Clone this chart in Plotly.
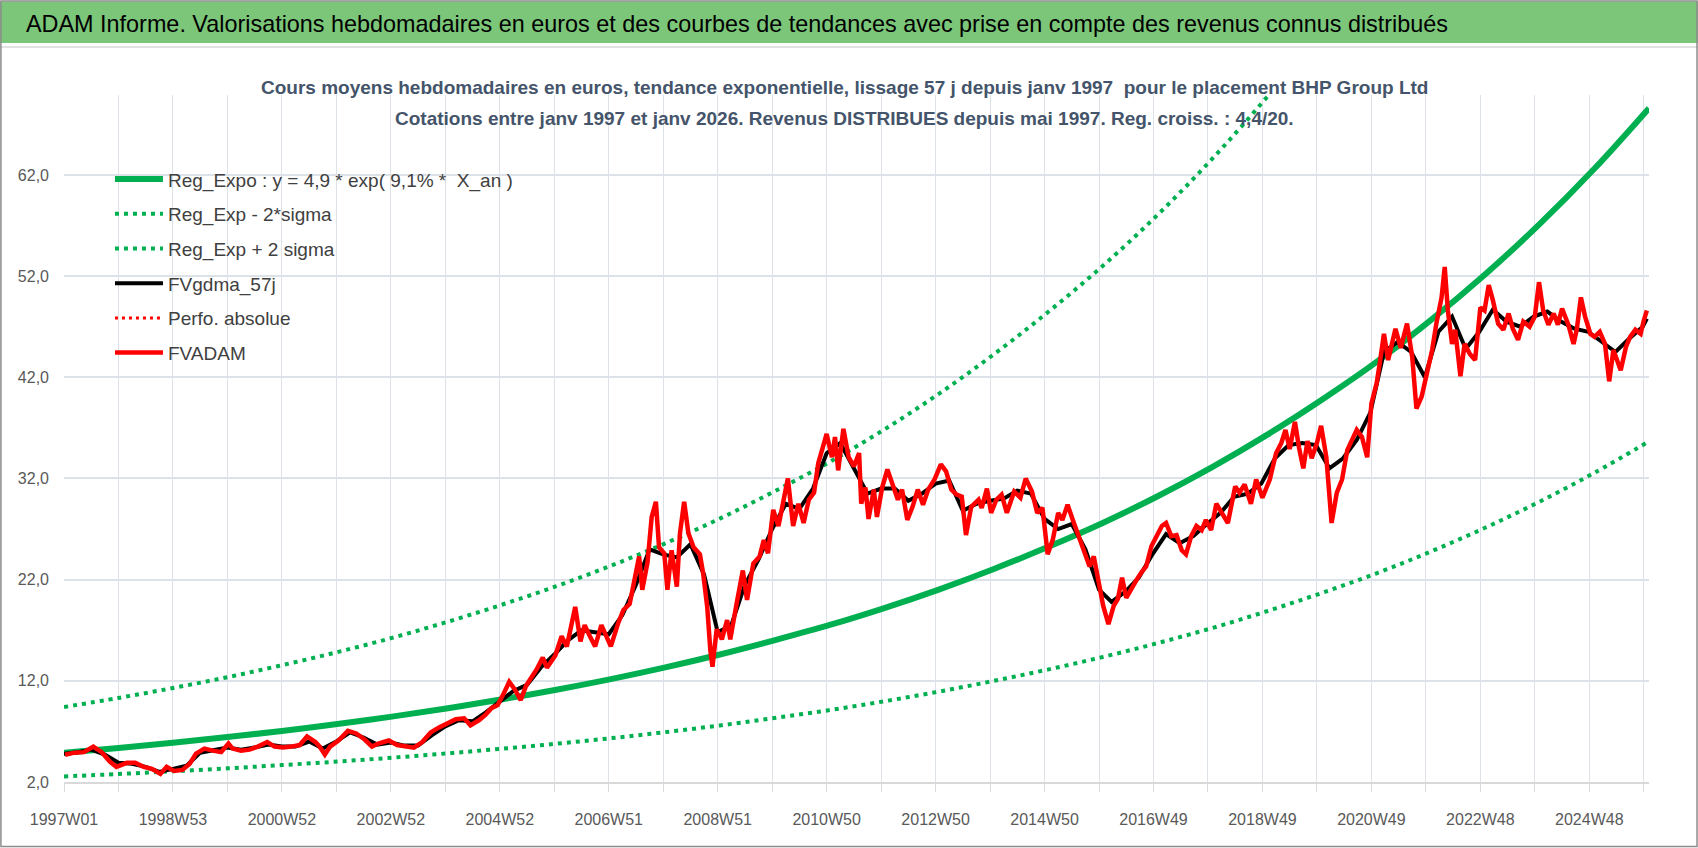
import plotly.graph_objs as go

# semaines depuis 1997W01 (index) et etiquettes de l'axe X
tick_weeks = [0, 104, 208, 312, 416, 520, 624, 728, 832, 936, 1040, 1144, 1248, 1352, 1456]
tick_labels = ["1997W01", "1998W53", "2000W52", "2002W52", "2004W52", "2006W51", "2008W51",
               "2010W50", "2012W50", "2014W50", "2016W49", "2018W49", "2020W49", "2022W48", "2024W48"]

# courbes de tendance (une valeur par an)
trend_weeks = [0, 52, 104, 156, 208, 261, 313, 365, 417, 470, 522, 574, 626, 678, 731, 783,
               835, 887, 939, 992, 1044, 1096, 1148, 1200, 1253, 1305, 1357, 1409, 1461, 1513]
reg_expo = [4.90, 5.37, 5.88, 6.44, 7.05, 7.73, 8.46, 9.27, 10.15, 11.12, 12.17, 13.33, 14.60, 16.00,
            17.52, 19.19, 21.02, 23.03, 25.22, 27.63, 30.24, 33.12, 36.28, 39.73, 43.52, 47.67, 52.21,
            57.18, 62.63, 68.60]
reg_minus = [2.55, 2.79, 3.06, 3.35, 3.67, 4.02, 4.40, 4.82, 5.28, 5.78, 6.33, 6.93, 7.59, 8.32, 9.11,
             9.98, 10.93, 11.98, 13.11, 14.37, 15.73, 17.22, 18.87, 20.66, 22.63, 24.79, 27.15, 29.73,
             32.57, 35.67]
reg_plus = [9.41, 10.31, 11.29, 12.36, 13.54, 14.84, 16.24, 17.80, 19.49, 21.35, 23.37, 25.59, 28.03,
            30.72, 33.64, 36.84, 40.36, 44.22, 48.42, 53.05, 58.06, 63.59, 69.66, 76.28, 83.56, 91.53,
            100.24, 109.79, 120.25, 131.71]

# FVgdma_57j (lissage)
gdma_weeks = [0, 13, 26, 39, 52, 65, 78, 91, 104, 117, 130, 143, 156, 169, 182, 195, 208, 221, 234,
              247, 260, 273, 286, 299, 312, 325, 338, 351, 364, 377, 390, 403, 416, 429, 442, 455,
              468, 481, 494, 507, 520, 533, 546, 559, 572, 585, 598, 611, 624, 637, 650, 663, 676,
              689, 702, 715, 728, 741, 754, 767, 780, 793, 806, 819, 832, 845, 858, 871, 884, 897,
              910, 923, 936, 949, 962, 975, 988, 1000, 1013, 1026, 1039, 1052, 1065, 1078, 1091,
              1104, 1117, 1130, 1143, 1156, 1169, 1182, 1195, 1208, 1221, 1234, 1247, 1260, 1273,
              1286, 1299, 1312, 1325, 1338, 1351, 1364, 1377, 1390, 1403, 1416, 1429, 1442, 1455,
              1468, 1481, 1494, 1507, 1511]
gdma = [4.8, 4.95, 5.2, 4.7, 3.9, 3.8, 3.5, 3.0, 3.3, 3.6, 4.9, 5.1, 5.4, 5.2, 5.4, 5.7, 5.5, 5.5, 6.0,
        5.3, 6.0, 6.9, 6.4, 5.7, 5.9, 5.6, 5.6, 6.6, 7.5, 8.1, 8.0, 8.9, 10.0, 11.0, 11.6, 13.3,
        14.6, 16.0, 17.0, 16.8, 16.6, 18.5, 21.5, 25.0, 24.5, 24.2, 25.5, 22.5, 16.8, 17.5, 21.5, 24.0, 27.0,
        29.5, 29.0, 31.0, 34.5, 35.5, 33.0, 30.5, 31.0, 31.0, 29.8, 30.5, 31.5, 31.8, 28.8, 29.5, 29.8, 30.0,
        30.8, 30.5, 28.0, 27.0, 27.5, 25.0, 21.0, 19.8, 20.8, 22.2, 24.5, 26.5, 25.6, 26.3, 27.5,
        28.6, 30.2, 30.5, 31.5, 34.0, 35.3, 35.5, 35.3, 33.0, 34.0, 35.8, 38.5, 44.5, 45.5,
        44.5, 42.0, 46.5, 48.0, 44.8, 46.5, 48.7, 47.5, 47.0, 48.0, 48.5, 47.5, 46.8, 46.5,
        45.5, 44.5, 45.8, 47.0, 47.8]

# FVADAM (cours hebdomadaires)
adam_weeks = [1, 10, 19, 28, 36, 44, 50, 60, 68, 76, 84, 92, 98, 105, 113, 120, 126, 134, 142, 150,
              157, 161, 169, 177, 185, 194, 201, 209, 217, 225, 232, 240, 244, 249, 254, 262, 271,
              279, 287, 294, 300, 310, 318, 326, 334, 342, 350, 358, 367, 374, 382, 388, 396,
              402, 408, 414, 420, 425, 430, 436, 441,
              451, 457, 461, 469, 475, 480, 486, 488, 493, 497, 502, 507, 513, 518, 522, 529, 534,
              540, 544, 549, 552, 557, 561, 565, 568, 573, 576, 580, 585, 588, 592, 596, 601, 607,
              610, 614, 617, 619, 623, 628, 633, 636, 642, 648, 652, 658, 664, 668, 672, 677, 682,
              687, 691, 696, 701, 706, 711, 716, 720, 728, 733, 736, 739, 744, 749, 754, 759, 761,
              765, 768, 773, 776, 781, 786, 791, 796,
              800, 805, 810, 815, 820, 825, 831, 837, 842, 847, 852, 857, 861, 866, 873, 876, 881,
              885, 890, 895, 900, 907, 913, 918, 924, 929, 934, 939, 944, 949, 953, 958, 963, 970,
              974, 979, 983, 987, 992, 997, 1002, 1006, 1010, 1014, 1019, 1024, 1029, 1033, 1038,
              1043, 1048, 1052, 1057, 1062, 1067, 1071, 1076, 1081, 1086, 1090, 1095, 1100, 1105,
              1111, 1118, 1122, 1127, 1133, 1138, 1144, 1151, 1157,
              1162, 1166, 1170, 1175, 1179, 1183, 1187, 1191, 1196, 1200, 1205, 1210, 1215, 1220,
              1225, 1229, 1234, 1239, 1244, 1248, 1253, 1256, 1260, 1264, 1271, 1276, 1282, 1287,
              1291, 1296, 1301, 1306, 1310, 1315, 1318, 1321, 1325, 1328, 1333, 1337, 1342, 1347,
              1352, 1356, 1360, 1364, 1369, 1374, 1379, 1383, 1388, 1393, 1399, 1404, 1408, 1412,
              1417, 1422, 1426, 1430, 1436, 1441, 1444, 1448, 1452, 1457, 1461, 1466, 1471, 1475,
              1479, 1486, 1491, 1495, 1500, 1505, 1508, 1511]
adam = [4.7, 4.9, 4.95, 5.5, 4.95, 4.0, 3.5, 3.9, 3.9, 3.5, 3.3, 2.8, 3.5, 3.1, 3.2, 3.8, 4.8, 5.3, 5.1, 4.95,
        5.8, 5.3, 5.1, 5.2, 5.5, 5.95, 5.5, 5.4, 5.5, 5.65, 6.5, 5.95, 5.5, 4.7, 5.5, 6.1, 7.05,
        6.8, 6.2, 5.5, 5.8, 6.1, 5.65, 5.5, 5.4, 5.95, 6.9, 7.4, 7.8, 8.2, 8.3, 7.6, 8.1,
        8.6, 9.3, 9.6, 10.8, 11.9, 11.2, 10.1, 11.5,
        13.1, 14.3, 13.3, 14.5, 16.4, 15.4, 18.0, 19.3, 15.9, 17.5, 16.4, 15.4, 17.5, 16.4, 15.4, 17.7, 19.0,
        19.6, 21.7, 24.3, 21.0, 23.7, 28.2, 29.7, 25.2, 24.6, 21.0, 24.9, 21.3, 26.6, 29.7, 26.6, 25.2, 24.5,
        22.7, 19.3, 15.0, 13.4, 17.1, 16.1, 18.0, 16.1, 19.6, 22.9, 20.0, 23.6, 24.3, 25.9, 24.6, 28.9, 27.3,
        30.2, 32.0, 27.3, 29.5, 27.6, 29.9, 30.6, 33.5, 36.4, 34.1, 36.1, 32.8, 36.9, 34.1, 33.2, 34.5, 29.5,
        31.1, 28.0, 30.9, 28.2, 31.1, 32.9, 31.5, 29.9,
        30.9, 27.9, 29.2, 30.9, 29.4, 30.9, 31.9, 33.4, 32.7, 30.9, 30.4, 30.2, 26.4, 29.2, 29.9, 29.1, 31.0,
        28.6, 29.9, 30.4, 28.6, 30.7, 30.1, 32.0, 30.7, 28.6, 29.1, 24.5, 26.0, 28.6, 27.9, 29.4, 27.9, 26.0,
        24.7, 23.3, 24.3, 22.0, 19.4, 17.6, 19.4, 20.1, 22.2, 20.2, 21.2, 22.0, 22.8, 23.3, 25.3,
        26.4, 27.3, 27.6, 26.3, 26.4, 24.9, 24.5, 26.3, 27.3, 26.9, 27.9, 26.9, 29.5, 28.6,
        27.6, 31.2, 30.6, 31.4, 29.5, 31.9, 30.1, 31.9, 34.5,
        35.5, 36.8, 34.9, 37.6, 35.0, 33.0, 35.7, 34.0, 35.5, 37.2, 34.1, 27.6, 30.6, 31.9,
        34.8, 35.8, 36.8, 36.1, 34.1, 39.4, 41.4, 43.4, 46.3, 43.7, 46.8, 44.9, 47.3, 44.0,
        38.9, 40.1, 42.4, 44.7, 47.3, 49.9, 52.9, 48.6, 45.3, 46.7, 42.1, 45.3, 44.3, 43.7,
        48.9, 48.6, 51.1, 49.6, 47.3, 46.7, 48.3, 46.8, 45.7, 47.5, 47.0, 48.0, 51.4, 48.6,
        47.2, 48.3, 47.2, 48.8, 47.2, 45.3, 46.7, 49.9, 48.0, 46.3, 46.0, 46.5, 45.3, 41.6,
        44.7, 42.7, 45.0, 46.0, 46.7, 46.3, 47.6, 48.6]

green = "#00B050"
font_fam = "Liberation Sans, Arial, sans-serif"

fig = go.Figure()
fig.add_trace(go.Scatter(x=trend_weeks, y=reg_expo, mode="lines", line_shape="spline",
                         name="Reg_Expo : y = 4,9 * exp( 9,1% *  X_an )", legendgroup="a",
                         line=dict(color=green, width=6)))
fig.add_trace(go.Scatter(x=trend_weeks, y=reg_minus, mode="lines", line_shape="spline",
                         name="Reg_Exp - 2*sigma", legendgroup="b",
                         line=dict(color=green, width=4, dash="4px,5px")))
fig.add_trace(go.Scatter(x=trend_weeks, y=reg_plus, mode="lines", line_shape="spline",
                         name="Reg_Exp + 2 sigma", legendgroup="c",
                         line=dict(color=green, width=4, dash="4px,5px")))
fig.add_trace(go.Scatter(x=gdma_weeks, y=gdma, mode="lines", name="FVgdma_57j", legendgroup="d",
                         line=dict(color="black", width=4)))
fig.add_trace(go.Scatter(x=[None], y=[None], mode="lines", name="Perfo. absolue", legendgroup="e",
                         line=dict(color="#FF0000", width=3, dash="3px,4px")))
fig.add_trace(go.Scatter(x=adam_weeks, y=adam, mode="lines", name="FVADAM", legendgroup="f",
                         line=dict(color="#FF0000", width=4.5)))

# bandeau vert du titre
fig.add_shape(type="rect", xref="paper", yref="paper", x0=-0.0404, x1=1.0309, y0=1.0757, y1=1.136,
              fillcolor="#7CC67A", line_width=0, layer="below")
fig.add_shape(type="line", xref="paper", yref="paper", x0=-0.0404, x1=1.0309, y0=1.07, y1=1.07,
              line=dict(color="#D9D9D9", width=1.5))
fig.add_shape(type="rect", xref="paper", yref="paper", x0=-0.0398, x1=1.0303, y0=-0.094, y1=1.1368,
              line=dict(color="#8C8C8C", width=1.5))

fig.add_annotation(xref="paper", yref="paper", x=-0.0255, y=1.1033, xanchor="left", yanchor="middle",
                   showarrow=False,
                   text="ADAM Informe. Valorisations hebdomadaires en euros et des courbes de tendances avec prise en compte des revenus connus distribués",
                   font=dict(family=font_fam, size=23.4, color="black"))
fig.add_annotation(xref="paper", yref="paper", x=0.4927, y=1.0102, xanchor="center", yanchor="middle",
                   showarrow=False,
                   text="<b>Cours moyens hebdomadaires en euros, tendance exponentielle, lissage 57 j depuis janv 1997  pour le placement BHP Group Ltd</b>",
                   font=dict(family=font_fam, size=19, color="#44546A"))
fig.add_annotation(xref="paper", yref="paper", x=0.4927, y=0.9665, xanchor="center", yanchor="middle",
                   showarrow=False,
                   text="<b>Cotations entre janv 1997 et janv 2026. Revenus DISTRIBUES depuis mai 1997. Reg. croiss. : 4,4/20.</b>",
                   font=dict(family=font_fam, size=19, color="#44546A"))

fig.update_layout(
    width=1698, height=848,
    margin=dict(l=64, r=49, t=95, b=66),
    paper_bgcolor="white", plot_bgcolor="white",
    separators=", ",
    showlegend=True,
    legend=dict(x=0.029, y=0.905, xanchor="left", yanchor="top", bgcolor="rgba(0,0,0,0)",
                font=dict(family=font_fam, size=19, color="#404040"), tracegroupgap=7,
                itemwidth=48),
    xaxis=dict(range=[0, 1513], tickmode="array", tickvals=tick_weeks, ticktext=tick_labels,
               showgrid=True, gridcolor="#DDE1E8", gridwidth=1, zeroline=False,
               showline=True, linecolor="#D9D9D9", linewidth=1.5,
               ticks="outside", ticklen=8, tickcolor="#D9D9D9",
               minor=dict(tickmode="linear", tick0=52, dtick=104, showgrid=True, gridcolor="#DDE1E8",
                          ticks="outside", ticklen=8, tickcolor="#D9D9D9"),
               tickfont=dict(family=font_fam, size=16, color="#595959"), ticklabelstandoff=14),
    yaxis=dict(range=[2, 69.9], tickmode="linear", tick0=2, dtick=10, tickformat=".1f",
               showgrid=True, gridcolor="#DDE1E8", gridwidth=1.5, zeroline=False,
               tickfont=dict(family=font_fam, size=16, color="#595959"), ticklabelstandoff=14),
)

fig.write_html("out.html", config={"displayModeBar": False},
               post_script="document.body.style.margin='0';")
